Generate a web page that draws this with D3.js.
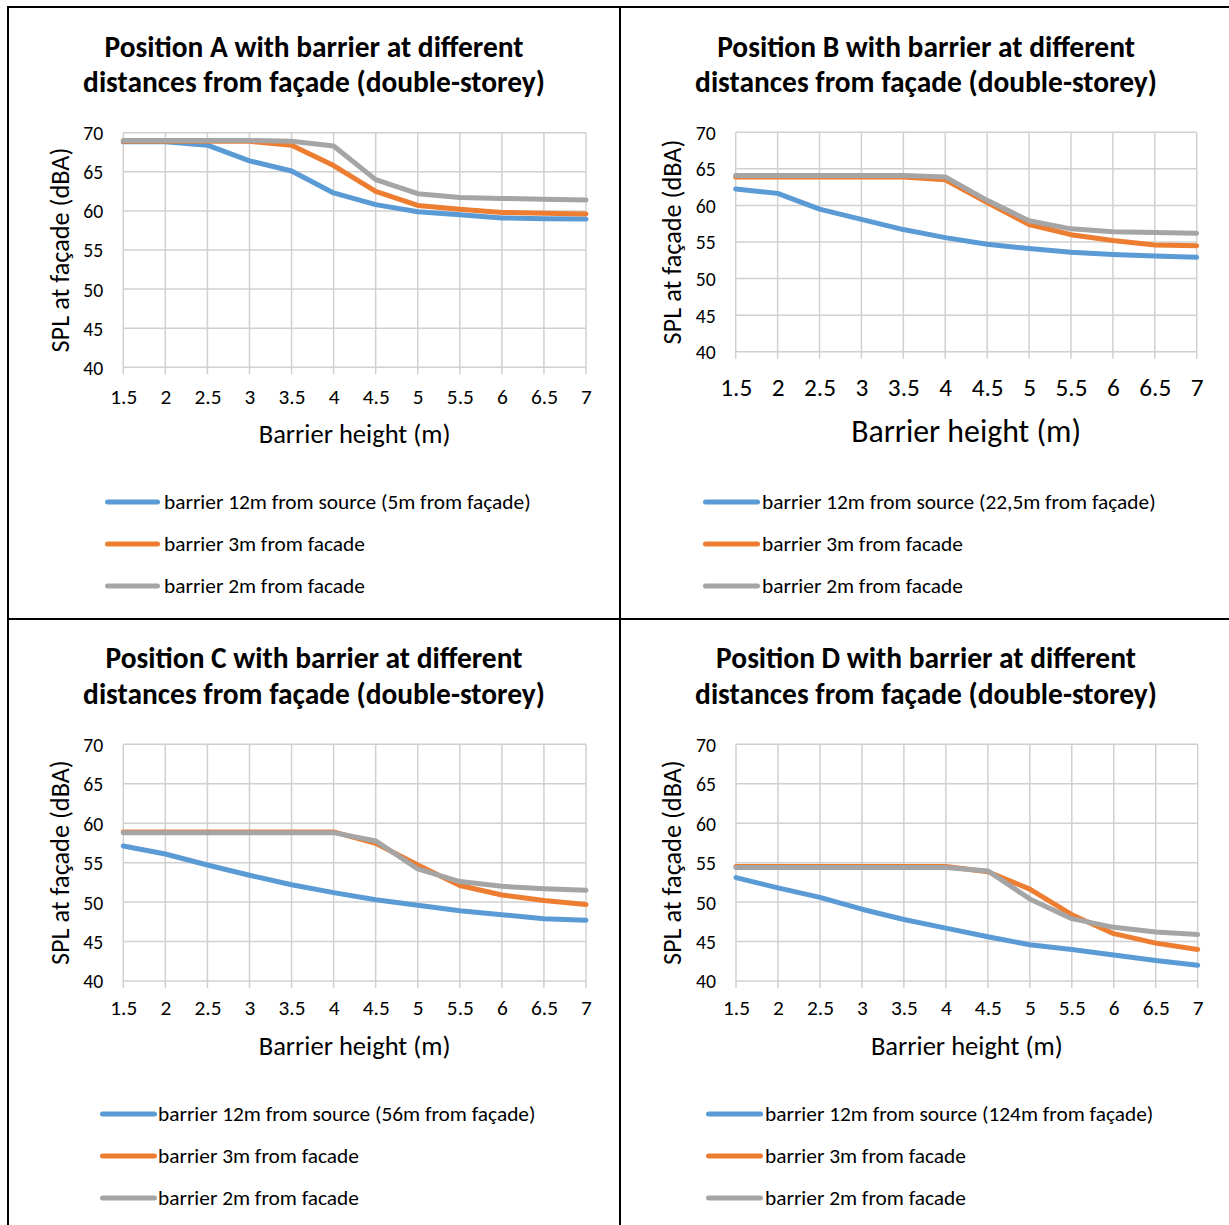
<!DOCTYPE html>
<html>
<head>
<meta charset="utf-8">
<script src="https://cdn.jsdelivr.net/npm/d3@7"></script>
<style>
  body { margin: 0; background: #fff; }
  svg { display: block; }
</style>
</head>
<body>
<svg id="chart" width="1229" height="1225"></svg>
<script>
// Barrier heights (m) along the category axis
const categories = ["1.5", "2", "2.5", "3", "3.5", "4", "4.5", "5", "5.5", "6", "6.5", "7"];
const yTickValues = [40, 45, 50, 55, 60, 65, 70];

// SPL at façade (dBA) for each receiver position and barrier placement
const posA_12m = [68.85, 68.85, 68.4, 66.4, 65.1, 62.3, 60.8, 59.9, 59.5, 59.1, 59.0, 58.95];
const posA_3m  = [68.9, 68.9, 68.9, 68.9, 68.4, 65.8, 62.5, 60.7, 60.2, 59.8, 59.7, 59.6];
const posA_2m  = [69.0, 69.0, 69.0, 69.0, 68.9, 68.3, 64.0, 62.2, 61.7, 61.6, 61.5, 61.4];

const posB_12m = [62.25, 61.65, 59.5, 58.1, 56.7, 55.6, 54.7, 54.1, 53.6, 53.3, 53.1, 52.9];
const posB_3m  = [63.9, 63.9, 63.9, 63.9, 63.9, 63.5, 60.4, 57.4, 56.0, 55.2, 54.6, 54.5];
const posB_2m  = [64.1, 64.1, 64.1, 64.1, 64.1, 63.9, 60.7, 57.9, 56.8, 56.4, 56.3, 56.2];

const posC_12m = [57.1, 56.1, 54.7, 53.4, 52.2, 51.2, 50.3, 49.6, 48.9, 48.4, 47.9, 47.7];
const posC_3m  = [58.9, 58.9, 58.9, 58.9, 58.9, 58.9, 57.45, 54.7, 52.1, 50.9, 50.2, 49.7];
const posC_2m  = [58.8, 58.8, 58.8, 58.8, 58.8, 58.8, 57.75, 54.2, 52.6, 52.0, 51.7, 51.5];

const posD_12m = [53.1, 51.8, 50.6, 49.1, 47.8, 46.7, 45.6, 44.6, 44.0, 43.3, 42.6, 42.0];
const posD_3m  = [54.5, 54.5, 54.5, 54.5, 54.5, 54.5, 53.85, 51.65, 48.4, 46.0, 44.8, 44.0];
const posD_2m  = [54.4, 54.4, 54.4, 54.4, 54.4, 54.4, 53.95, 50.4, 47.9, 46.8, 46.2, 45.9];

const titlesA = ["Position A with barrier at different", "distances from façade (double-storey)"];
const titlesB = ["Position B with barrier at different", "distances from façade (double-storey)"];
const titlesC = ["Position C with barrier at different", "distances from façade (double-storey)"];
const titlesD = ["Position D with barrier at different", "distances from façade (double-storey)"];

const legendA = ["barrier 12m from source (5m from façade)", "barrier 3m from facade", "barrier 2m from facade"];
const legendB = ["barrier 12m from source (22,5m from façade)", "barrier 3m from facade", "barrier 2m from facade"];
const legendC = ["barrier 12m from source (56m from façade)", "barrier 3m from facade", "barrier 2m from facade"];
const legendD = ["barrier 12m from source (124m from façade)", "barrier 3m from facade", "barrier 2m from facade"];

const xTitle = "Barrier height (m)";
const yTitle = "SPL at façade (dBA)";

const seriesColors = ["#5B9BD5", "#ED7D31", "#A5A5A5"];
const FONT = "Carlito, Lato, 'Open Sans', sans-serif";

const panels = [
  { ox: 8,   oy: 7,   titles: titlesA, legend: legendA, series: [posA_12m, posA_3m, posA_2m],
    plot: { x0: 115.3, x1: 578, y0: 125.7, y1: 360.3 }, titleY: [40, 75],
    xTickY: 390, xTickW: 27, xTitleY: 427, xTitleW: 192, legendX: [97, 152, 156] },
  { ox: 620, oy: 7,   titles: titlesB, legend: legendB, series: [posB_12m, posB_3m, posB_2m],
    plot: { x0: 115.7, x1: 576.7, y0: 125.3, y1: 344.7 }, titleY: [40, 75],
    xTickY: 380, xTickW: 32, xTitleY: 424, xTitleW: 230, legendX: [83, 140, 142] },
  { ox: 8,   oy: 619, titles: titlesC, legend: legendC, series: [posC_12m, posC_3m, posC_2m],
    plot: { x0: 115.3, x1: 578, y0: 125.3, y1: 362 }, titleY: [39, 75],
    xTickY: 389, xTickW: 27, xTitleY: 427, xTitleW: 192, legendX: [92, 149, 150] },
  { ox: 620, oy: 619, titles: titlesD, legend: legendD, series: [posD_12m, posD_3m, posD_2m],
    plot: { x0: 116, x1: 577.7, y0: 125.3, y1: 362 }, titleY: [39, 75],
    xTickY: 389, xTickW: 27, xTitleY: 427, xTitleW: 192, legendX: [86, 143, 145] }
];

const svg = d3.select("#chart");

// hidden probe used to size fonts to a target text width
const probe = svg.append("text").attr("visibility", "hidden").attr("font-family", FONT);
function fitSize(str, width, weight) {
  probe.attr("font-size", 100).attr("font-weight", weight || 400).text(str);
  return 100 * width / probe.node().getComputedTextLength();
}

const titleSize = fitSize(titlesA[1], 462, 700);
const legendSize = fitSize("barrier 3m from facade", 201, 400);
const yTickSize = fitSize("70", 20, 400);
const yTitleSize = fitSize(yTitle, 205, 400);

panels.forEach(p => {
  const g = svg.append("g").attr("transform", `translate(${p.ox},${p.oy})`);
  const x = d3.scalePoint().domain(categories).range([p.plot.x0, p.plot.x1]).padding(0);
  const y = d3.scaleLinear().domain([40, 70]).range([p.plot.y1, p.plot.y0]);

  // titles
  p.titles.forEach((t, i) => {
    g.append("text")
      .attr("x", 306).attr("y", p.titleY[i])
      .attr("text-anchor", "middle").attr("dominant-baseline", "central")
      .attr("font-family", FONT).attr("font-weight", 700).attr("font-size", titleSize)
      .attr("fill", "#000").text(t);
  });

  // horizontal gridlines
  g.append("g").selectAll("line").data(yTickValues).join("line")
    .attr("x1", p.plot.x0).attr("x2", p.plot.x1)
    .attr("y1", d => y(d)).attr("y2", d => y(d))
    .attr("stroke", "#d0d0d0").attr("stroke-width", 1.5);

  // vertical gridlines with small outside tick marks
  g.append("g").selectAll("line").data(categories).join("line")
    .attr("x1", d => x(d)).attr("x2", d => x(d))
    .attr("y1", p.plot.y0).attr("y2", p.plot.y1 + 7)
    .attr("stroke", "#d0d0d0").attr("stroke-width", 1.5);

  // y axis labels
  const yAxis = d3.axisLeft(y).tickValues(yTickValues).tickSize(0).tickPadding(0);
  const ya = g.append("g").attr("transform", `translate(${p.plot.x0 - 20},0)`).call(yAxis);
  ya.select(".domain").remove();
  ya.selectAll("text").attr("font-family", FONT).attr("font-size", yTickSize).attr("fill", "#000")
    .attr("dy", "0.35em");

  // x axis labels
  const xTickSize = fitSize("1.5", p.xTickW, 400);
  const xAxis = d3.axisBottom(x).tickSize(0).tickPadding(0);
  const xa = g.append("g").attr("transform", `translate(0,${p.xTickY})`).call(xAxis);
  xa.select(".domain").remove();
  xa.selectAll("text").attr("font-family", FONT).attr("font-size", xTickSize).attr("fill", "#000")
    .attr("dy", "0.35em");

  // axis titles
  g.append("text")
    .attr("x", (p.plot.x0 + p.plot.x1) / 2).attr("y", p.xTitleY)
    .attr("text-anchor", "middle").attr("dominant-baseline", "central")
    .attr("font-family", FONT).attr("font-size", fitSize(xTitle, p.xTitleW, 400))
    .attr("fill", "#000").text(xTitle);
  g.append("text")
    .attr("transform", `translate(52,${(p.plot.y0 + p.plot.y1) / 2}) rotate(-90)`)
    .attr("text-anchor", "middle").attr("dominant-baseline", "central")
    .attr("font-family", FONT).attr("font-size", yTitleSize)
    .attr("fill", "#000").text(yTitle);

  // series lines
  const line = d3.line().x((d, i) => x(categories[i])).y(d => y(d));
  p.series.forEach((s, i) => {
    g.append("path").datum(s)
      .attr("d", line).attr("fill", "none")
      .attr("stroke", seriesColors[i]).attr("stroke-width", 5)
      .attr("stroke-linejoin", "round").attr("stroke-linecap", "round");
  });

  // legend
  const ly = [495, 537, 579];
  p.legend.forEach((t, i) => {
    g.append("line")
      .attr("x1", p.legendX[0] + 2.5).attr("x2", p.legendX[1] - 2.5)
      .attr("y1", ly[i]).attr("y2", ly[i])
      .attr("stroke", seriesColors[i]).attr("stroke-width", 5).attr("stroke-linecap", "round");
    g.append("text")
      .attr("x", p.legendX[2]).attr("y", ly[i])
      .attr("dominant-baseline", "central")
      .attr("font-family", FONT).attr("font-size", legendSize)
      .attr("fill", "#000").text(t);
  });
});

// panel frame
const frame = svg.append("g").attr("stroke", "#000").attr("stroke-width", 2);
frame.append("line").attr("x1", 8).attr("x2", 8).attr("y1", 6).attr("y2", 1225);
frame.append("line").attr("x1", 620).attr("x2", 620).attr("y1", 6).attr("y2", 1225);
frame.append("line").attr("x1", 7).attr("x2", 1229).attr("y1", 7).attr("y2", 7);
frame.append("line").attr("x1", 7).attr("x2", 1229).attr("y1", 619).attr("y2", 619);
probe.remove();
</script>
</body>
</html>
